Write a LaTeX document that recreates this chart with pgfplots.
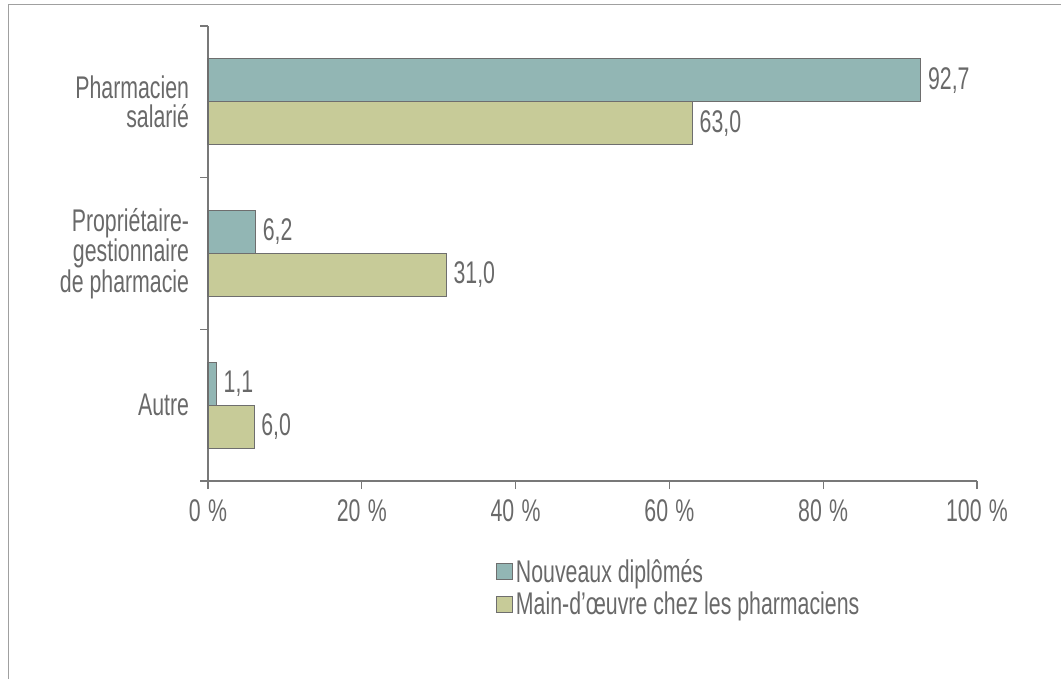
\documentclass[border=0pt]{standalone}
\usepackage{pgfplots}
\pgfplotsset{compat=1.18}
\usepackage{fontspec}
\setmainfont{Liberation Sans}[FakeStretch=0.68]
\definecolor{txt}{RGB}{105,105,105}
\definecolor{axisgray}{RGB}{120,120,120}
\definecolor{framegray}{RGB}{160,160,160}
\definecolor{barblue}{RGB}{146,182,180}
\definecolor{bargreen}{RGB}{199,203,152}
\definecolor{baredge}{RGB}{110,110,110}
\begin{document}
\begin{tikzpicture}[x=0.75pt,y=0.75pt]
\path[use as bounding box] (0,0) rectangle (1061,679);
\draw[framegray, line width=1.2pt] (8.5,0) -- (8.5,674.5) -- (1061,674.5);
\begin{axis}[
  at={(156pt,148.5pt)}, anchor=south west,
  scale only axis, width=576.75pt, height=341.25pt,
  xmin=0, xmax=100, ymin=-0.5, ymax=2.5,
  axis x line*=bottom, axis y line*=left,
  axis line style={axisgray, line width=1pt},
  every tick/.style={axisgray, line width=1pt},
  tick align=outside,
  xtick={0,20,...,100},
  major tick length=6pt, minor tick length=6pt,
  xticklabel={\pgfmathprintnumber{\tick}\hspace{5.5pt}\%},
  /pgf/number format/assume math mode=true,
  ytick={0,1,2},
  yticklabels={Autre, Propriétaire-\\gestionnaire\\de pharmacie, Pharmacien\\salarié},
  minor ytick={-0.5,0.5,1.5,2.5},
  major y tick style={draw=none},
  tick label style={font=\fontsize{23.5}{21.8}\selectfont, text=txt},
  yticklabel style={align=right, inner sep=0pt, xshift=-8pt},
  xticklabel style={inner sep=0pt, yshift=-8pt},
  xbar, bar width=32.25pt,
  nodes near coords={\pgfmathprintnumber[fixed,fixed zerofill,precision=1,use comma]{\pgfplotspointmeta}},
  nodes near coords style={font=\fontsize{23.5}{21.5}\selectfont, text=txt, inner sep=0pt, xshift=5pt, anchor=west},
  legend style={at={(axis description cs:0.3745,-0.165)}, anchor=north west, draw=none, fill=none, inner sep=0pt,
    font=\fontsize{23.5}{21.5}\selectfont, text=txt, row sep=2pt, cells={anchor=west}},
  legend image code/.code={\draw[#1, draw=baredge, line width=0.8pt] (0pt,-6pt) rectangle (12pt,6pt);},
  legend cell align=left,
  clip=false,
]
\addplot[fill=barblue, draw=baredge, line width=0.8pt, bar shift=16.125pt] coordinates {(92.7,2) (6.2,1) (1.1,0)};
\addplot[fill=bargreen, draw=baredge, line width=0.8pt, bar shift=-16.125pt] coordinates {(63.0,2) (31.0,1) (6.0,0)};
\legend{Nouveaux diplômés, Main-d’œuvre chez les pharmaciens}
\end{axis}
\end{tikzpicture}
\end{document}
